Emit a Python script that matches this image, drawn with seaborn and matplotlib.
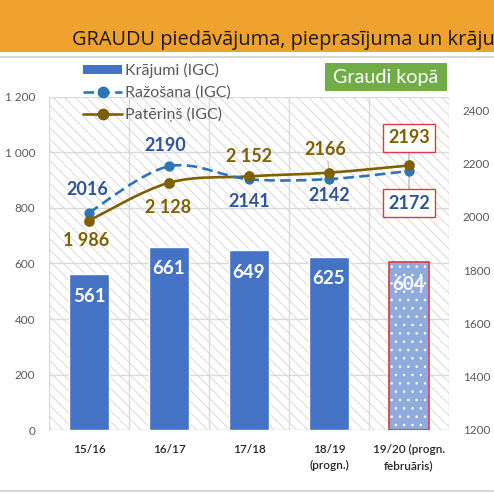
import numpy as np
import pandas as pd
import matplotlib
matplotlib.use("Agg")
import matplotlib.pyplot as plt
import seaborn as sns
from matplotlib.patches import Rectangle, PathPatch, Patch
from matplotlib.path import Path
from matplotlib.lines import Line2D

# ---------------- data ----------------
categories = ["15/16", "16/17", "17/18", "18/19\n(progn.)", "19/20 (progn.\nfebruāris)"]
krajumi = [561, 661, 649, 625, 604]          # Krājumi (IGC), left axis
razosana = [2016, 2190, 2141, 2142, 2172]    # Ražošana (IGC), right axis
pateriņs = [1986, 2128, 2152, 2166, 2193]    # Patēriņš (IGC), right axis
razosana_labels = ["2016", "2190", "2141", "2142", "2172"]
pateriņs_labels = ["1 986", "2 128", "2 152", "2166", "2193"]
left_ticks = [0, 200, 400, 600, 800, 1000, 1200]
right_ticks = [1200, 1400, 1600, 1800, 2000, 2200, 2400]
title = "GRAUDU piedāvājuma, pieprasījuma un krāju"
badge = "Graudi kopā"
legend_labels = ["Krājumi (IGC)", "Ražošana (IGC)", "Patēriņš (IGC)"]

# ---------------- style ----------------
sns.set_style("white")
plt.rcParams["font.family"] = ["Lato", "DejaVu Sans"]
plt.rcParams["hatch.linewidth"] = 0.6

BAR = "#4472c4"
BAR_LAST = "#8faadc"
BLUE = "#2e75b6"
BLUE_TXT = "#2f5597"
BROWN = "#7f6000"
RED = "#dc3a3f"
GRID = "#d9d9d9"
TICK = "#595959"

fig = plt.figure(figsize=(4.94, 4.94), dpi=100)
W = H = 494.0

# banner
fig.patches.append(Rectangle((0, 1 - 52 / H), 1, 52 / H, transform=fig.transFigure,
                             facecolor="#f0a22e", edgecolor="none", zorder=0))
fig.add_artist(Line2D([0, 1], [1 - 57 / H, 1 - 57 / H], transform=fig.transFigure,
                      color="#d9d9d9", lw=1.5))
fig.add_artist(Line2D([0, 1], [1 - 491 / H, 1 - 491 / H], transform=fig.transFigure,
                      color="#d9d9d9", lw=1.5))
fig.text(72 / W, 1 - 45 / H, title, fontsize=14.4, color="#1a1a1a",
         family=["Open Sans", "DejaVu Sans"], va="baseline", ha="left")

ax = fig.add_axes([49 / W, 64 / H, 400 / W, 333 / H])
ax.set_facecolor("white")
ax.add_patch(Rectangle((0, 0), 1, 1, transform=ax.transAxes, facecolor="none",
                       edgecolor="#d3d3d3", hatch="\\\\\\", lw=0, zorder=0))

df = pd.DataFrame({"cat": categories, "val": krajumi})
sns.barplot(data=df, x="cat", y="val", ax=ax, color=BAR, saturation=1,
            width=0.51, zorder=2)

last = ax.patches[-1]
last.set_facecolor(BAR_LAST)
last.set_edgecolor("white")
last.set_hatch("..")
last.set_linewidth(0)
bx, bw, bh = last.get_x(), last.get_width(), last.get_height()
ax.add_patch(Rectangle((bx, 0), bw, bh, facecolor="none", edgecolor=RED, lw=1.2, zorder=3))

ax.set_xlim(-0.5, 4.5)
ax.set_ylim(0, 1200)
ax.set_yticks(left_ticks)
ax.set_yticklabels([f"{v:,}".replace(",", " ") for v in left_ticks])
ax.set_xlabel("")
ax.set_ylabel("")
ax.tick_params(axis="y", length=0, pad=10, labelsize=8.5, labelcolor=TICK)
ax.tick_params(axis="x", length=0, pad=10, labelsize=8.5, labelcolor="#262626")
for lab in ax.get_xticklabels():
    lab.set_fontweight("semibold")
    lab.set_linespacing(1.6)
ax.set_axisbelow(True)
for y in left_ticks[1:]:
    ax.axhline(y, color=GRID, lw=1, zorder=1)
for x in np.arange(-0.5, 5, 1):
    ax.axvline(x, color=GRID, lw=1, zorder=1)
for s in ax.spines.values():
    s.set_visible(False)
ax.axhline(0, color="#bfbfbf", lw=1, zorder=1)

for i, v in enumerate(krajumi):
    ax.annotate(str(v), xy=(i, v), xytext=(0, -16), textcoords="offset points",
                ha="center", va="center", color="white", fontsize=13.5,
                fontweight="bold", zorder=5)

# ---------------- lines (right axis) ----------------
ax2 = ax.twinx()
ax2.set_ylim(1200, 2450)
ax2.set_yticks(right_ticks)
ax2.set_yticklabels([str(v) for v in right_ticks])
ax2.tick_params(axis="y", length=0, pad=10, labelsize=8.5, labelcolor=TICK)
for s in ax2.spines.values():
    s.set_visible(False)
ax2.set_ylabel("")

def smooth_path(xs, ys):
    xs = np.asarray(xs, float)
    ys = np.asarray(ys, float)
    n = len(xs)
    verts = [(xs[0], ys[0])]
    codes = [Path.MOVETO]
    for i in range(n - 1):
        p0 = np.array([xs[max(i - 1, 0)], ys[max(i - 1, 0)]])
        p1 = np.array([xs[i], ys[i]])
        p2 = np.array([xs[i + 1], ys[i + 1]])
        p3 = np.array([xs[min(i + 2, n - 1)], ys[min(i + 2, n - 1)]])
        c1 = p1 + (p2 - p0) / 6.0
        c2 = p2 - (p3 - p1) / 6.0
        verts += [tuple(c1), tuple(c2), tuple(p2)]
        codes += [Path.CURVE4] * 3
    return Path(verts, codes)

xi = np.arange(len(categories))
ax2.add_patch(PathPatch(smooth_path(xi, pateriņs), facecolor="none", edgecolor=BROWN,
                        lw=1.9, zorder=3, capstyle="round"))
pp = PathPatch(smooth_path(xi, razosana), facecolor="none", edgecolor=BLUE,
               lw=1.9, zorder=3, linestyle=(0, (4, 2)))
ax2.add_patch(pp)
sns.scatterplot(x=xi, y=razosana, ax=ax2, color=BLUE, s=55, edgecolor=BLUE,
                linewidth=0, zorder=4, legend=False)
sns.scatterplot(x=xi, y=pateriņs, ax=ax2, color=BROWN, s=60, edgecolor=BROWN,
                linewidth=0, zorder=4, legend=False)
ax2.set_ylim(1200, 2450)
ax2.set_xlim(-0.5, 4.5)

# leader lines
ax2.annotate("", xy=(4, pateriņs[4]), xytext=(0, 20), textcoords="offset points",
             arrowprops=dict(arrowstyle="-", color="#a6a6a6", lw=0.8), zorder=2)
ax2.annotate("", xy=(4, razosana[4]), xytext=(0, -22), textcoords="offset points",
             arrowprops=dict(arrowstyle="-", color="#a6a6a6", lw=0.8), zorder=2)
ax2.annotate("", xy=(3, pateriņs[3]), xytext=(-1, 10), textcoords="offset points",
             arrowprops=dict(arrowstyle="-", color="#a6a6a6", lw=0.6), zorder=2)

raz_off = [(-1, 17), (-3, 15), (0, -16), (0, -12), (0, -23)]
pat_off = [(-2, -14), (-1, -18), (0, 14), (-3, 17), (0, 20)]
for i in range(len(categories)):
    boxed = i == 4
    bb = dict(boxstyle="square,pad=0.3", facecolor="white", edgecolor=RED, lw=1) if boxed else None
    ax2.annotate(razosana_labels[i], xy=(i, razosana[i]), xytext=raz_off[i],
                 textcoords="offset points", ha="center", va="center",
                 color=BLUE_TXT, fontsize=13, fontweight="bold", bbox=bb, zorder=6)
    bb = dict(boxstyle="square,pad=0.3", facecolor="white", edgecolor=RED, lw=1) if boxed else None
    ax2.annotate(pateriņs_labels[i], xy=(i, pateriņs[i]), xytext=pat_off[i],
                 textcoords="offset points", ha="center", va="center",
                 color=BROWN, fontsize=13, fontweight="bold", bbox=bb, zorder=6)

# badge
fig.patches.append(Rectangle((325 / W, 1 - 91 / H), 122 / W, 28 / H, transform=fig.transFigure,
                             facecolor="#70ad47", edgecolor="none", zorder=1))
fig.text(386 / W, 1 - 77 / H, badge, ha="center", va="center", color="white", fontsize=14.2)

# legend
handles = [Patch(facecolor=BAR, edgecolor="none"),
           Line2D([], [], color=BLUE, lw=1.9, ls=(0, (4, 2)), marker="o", markersize=7.5),
           Line2D([], [], color=BROWN, lw=1.9, marker="o", markersize=7.5)]
leg = ax2.legend(handles, legend_labels, loc="upper left",
                 bbox_to_anchor=(83 / W, 1 - 63 / H), bbox_transform=fig.transFigure,
                 frameon=False, fontsize=11.5, handlelength=2.45, handletextpad=0.2,
                 labelspacing=0.46, borderpad=0, borderaxespad=0, handleheight=0.5)
for t in leg.get_texts():
    t.set_color(TICK)

fig.savefig("out.png", dpi=100)
